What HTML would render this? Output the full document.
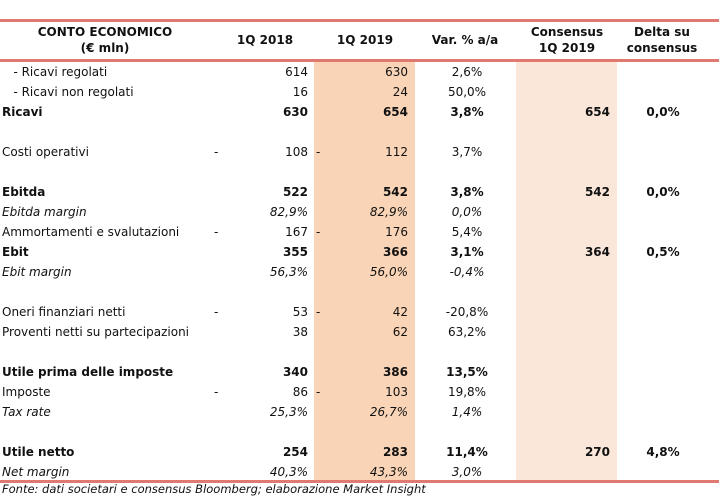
<!DOCTYPE html>
<html><head><meta charset="utf-8"><style>
body{margin:0;width:719px;height:500px;background:#fff;position:relative;overflow:hidden;font-family:"DejaVu Sans","Liberation Sans",sans-serif;color:#111}
.a{position:absolute;white-space:nowrap;font-size:12px;line-height:20px}
.b{font-weight:bold}.i{font-style:italic}
.r{text-align:right}.c{text-align:center}
.line{position:absolute;left:0;width:719px;height:3px;background:#e07a70}
.h{position:absolute;font-weight:bold;font-size:12px;line-height:16px;text-align:center}
</style></head><body>
<div class="line" style="top:19px"></div>
<div class="line" style="top:59px"></div>
<div style="position:absolute;left:314px;top:62px;width:101px;height:418px;background:#f9d4b6"></div>
<div style="position:absolute;left:516px;top:62px;width:101px;height:418px;background:#fbe7da"></div>
<div class="line" style="top:480px"></div>
<div class="h" style="left:10px;width:190px;top:24px">CONTO ECONOMICO<br>(€ mln)</div>
<div class="h" style="left:215px;width:100px;top:32px">1Q 2018</div>
<div class="h" style="left:315px;width:100px;top:32px">1Q 2019</div>
<div class="h" style="left:415px;width:100px;top:32px">Var. % a/a</div>
<div class="h" style="left:517px;width:100px;top:24px">Consensus<br>1Q 2019</div>
<div class="h" style="left:612px;width:100px;top:24px">Delta su<br>consensus</div>
<div class="a i" style="left:2px;top:479px;font-size:11.5px">Fonte: dati societari e consensus Bloomberg; elaborazione Market Insight</div>
<div id="rows"></div>
<script>
const labels=["  - Ricavi regolati","  - Ricavi non regolati","Ricavi","","Costi operativi","","Ebitda","Ebitda margin","Ammortamenti e svalutazioni","Ebit","Ebit margin","","Oneri finanziari netti","Proventi netti su partecipazioni","","Utile prima delle imposte","Imposte","Tax rate","","Utile netto","Net margin"];
const styles=["","","b","","","","b","i","","b","i","","","","","b","","i","","b","i"];
const v2018=["614","16","630","","108","","522","82,9%","167","355","56,3%","","53","38","","340","86","25,3%","","254","40,3%"];
const neg2018=[0,0,0,0,1,0,0,0,1,0,0,0,1,0,0,0,1,0,0,0,0];
const v2019=["630","24","654","","112","","542","82,9%","176","366","56,0%","","42","62","","386","103","26,7%","","283","43,3%"];
const neg2019=[0,0,0,0,1,0,0,0,1,0,0,0,1,0,0,0,1,0,0,0,0];
const vVar=["2,6%","50,0%","3,8%","","3,7%","","3,8%","0,0%","5,4%","3,1%","-0,4%","","-20,8%","63,2%","","13,5%","19,8%","1,4%","","11,4%","3,0%"];
const vCons=["","","654","","","","542","","","364","","","","","","","","","","270",""];
const vDelta=["","","0,0%","","","","0,0%","","","0,5%","","","","","","","","","","4,8%",""];
const root=document.getElementById('rows');
function cell(txt,cls,left,width,top,name){
  const d=document.createElement('div');
  d.className='a '+cls;
  d.style.left=left+'px';d.style.top=top+'px';if(width)d.style.width=width+'px';
  d.textContent=txt;
  
  
  root.appendChild(d);
}
labels.forEach((l,k)=>{
  const y=62+k*20;const s=styles[k];
  const vs=(s==='i')?'i':(s==='b'?'b':'');
  if(l)cell(l.replace(/^  /,'\u00a0\u00a0\u00a0'),s,2,null,y,'row-label');
  if(neg2018[k])cell('-','',214,null,y,'neg-sign-2018');
  if(v2018[k])cell(v2018[k],'r '+vs,240,68,y,'value-1q2018');
  if(neg2019[k])cell('-','',316,null,y,'neg-sign-2019');
  if(v2019[k])cell(v2019[k],'r '+vs,340,68,y,'value-1q2019');
  if(vVar[k])cell(vVar[k],'c '+vs,420,94,y,'value-var');
  if(vCons[k])cell(vCons[k],'r b',540,70,y,'value-consensus');
  if(vDelta[k])cell(vDelta[k],'c b',620,86,y,'value-delta');
});
</script>
</body></html>
